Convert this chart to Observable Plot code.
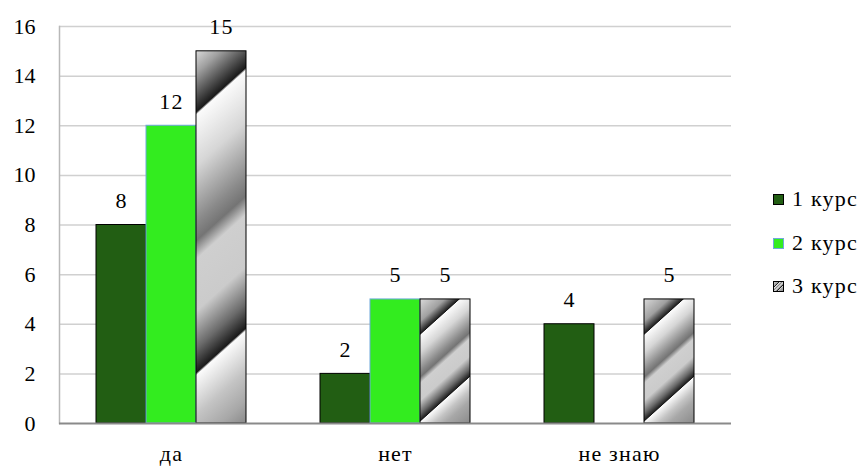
<!DOCTYPE html>
<html>
<head>
<meta charset="utf-8">
<script src="https://cdn.jsdelivr.net/npm/d3@7"></script>
<script src="https://cdn.jsdelivr.net/npm/@observablehq/plot@0.6"></script>
<style>
  html, body { margin: 0; padding: 0; background: #fff; }
  #wrap { position: relative; width: 864px; height: 467px; }
  #wrap > svg { position: absolute; left: 0; top: 0; }
  #legend { position: absolute; left: 773px; top: 0; }
  .item { position: absolute; left: 0; display: flex; align-items: center; white-space: nowrap; font-size: 22px; letter-spacing: 1.2px; color: #000; font-family: 'Liberation Serif', serif; }
  .item svg { margin-right: 8px; }
</style>
</head>
<body>
<svg width="0" height="0" style="position:absolute">
  <defs id="defs"></defs>
</svg>
<div id="wrap"><div id="legend"></div></div>
<script>
const categories = ["да", "нет", "не знаю"];
const series = ["1 курс", "2 курс", "3 курс"];
const kurs1 = [8, 2, 4];
const kurs2 = [12, 5, null];
const kurs3 = [15, 5, 5];
const yTicks = [0, 2, 4, 6, 8, 10, 12, 14, 16];
const fills = ["#225e13", "#33ec1f", null];
const strokes = ["#000000", "#6fa8dc", "#000000"];

const valuesBySeries = [kurs1, kurs2, kurs3];
const data = [];
categories.forEach((c, i) => {
  valuesBySeries.forEach((arr, j) => {
    if (arr[i] != null) data.push({category: c, series: series[j], value: arr[i]});
  });
});

const font = "Liberation Serif";
const common = {
  width: 864,
  height: 467,
  marginLeft: 59,
  marginRight: 133,
  marginTop: 26,
  marginBottom: 44,
  style: {fontFamily: font, fontSize: "22px", color: "#000", background: "transparent", overflow: "visible"},
  y: {domain: [0, 16], axis: null}
};

const back = Plot.plot({
  ...common,
  marks: [
    Plot.ruleY(yTicks.filter(d => d > 0), {stroke: "#d0d0d0", strokeWidth: 1.5}),
    Plot.frame({anchor: "left", stroke: "#b8b8b8", strokeWidth: 1.5}),
    Plot.text(yTicks, {y: d => d, text: d => String(d), frameAnchor: "left", textAnchor: "end", dx: -24, lineAnchor: "middle", fontSize: 22, fontFamily: font})
  ]
});

const stripeId = v => `stripe-${v}`;
const front = Plot.plot({
  ...common,
  style: {...common.style, letterSpacing: "1.2px"},
  color: {type: "identity"},
  fx: {domain: categories, paddingInner: 0.33, paddingOuter: 0.165, label: null},
  x: {domain: series, padding: 0, axis: null},
  marks: [
    ...series.map((s, j) => Plot.barY(data.filter(d => d.series === s), {
      fx: "category", x: "series", y: "value",
      fill: fills[j] ?? (d => `url(#${stripeId(d.value)})`), stroke: strokes[j], strokeWidth: 1
    })),
    Plot.text(data, {fx: "category", x: "series", y: "value", text: d => String(d.value), dy: -24, lineAnchor: "middle", fontSize: 22, fontFamily: font}),
    Plot.axisFx({anchor: "bottom", tickSize: 0, tickPadding: 22, label: null, fontSize: 22, fontFamily: font})
  ]
});

const base = Plot.plot({
  ...common,
  marks: [Plot.ruleY([0], {stroke: "#8a8a8a", strokeWidth: 2})]
});

// gradient stops given as [fraction down the bar at its centre line, colour]
const stripeStops = [
  [null, "#dadada"],
  [0.0, "#a0a0a0"],
  [0.105, "#1a1a1a"],
  [0.112, "#fbfbfb"],
  [0.25, "#d6d6d6"],
  [0.40, "#8a8a8a"],
  [0.45, "#747474"],
  [0.50, "#cfcfcf"],
  [0.64, "#cbcbcb"],
  [0.74, "#6a6a6a"],
  [0.805, "#1a1a1a"],
  [0.812, "#fbfbfb"],
  [0.92, "#c4c4c4"],
  [1.0, "#a8a8a8"],
  [1.5, "#8a8a8a"]
];
const yS = front.scale("y");
const bw = front.scale("x").bandwidth ?? 50;
const defs = d3.select("#defs");
function addGradient(id, H, W, slope) {
  const a = slope * W / H;
  const k = (1 + a) / (a * a + 1);
  const g = defs.append("linearGradient").attr("id", id)
    .attr("gradientUnits", "objectBoundingBox")
    .attr("x1", 0).attr("y1", 0).attr("x2", a * k).attr("y2", k);
  for (const [c, col] of stripeStops) {
    let off = c == null ? 0 : (0.5 * a + c) / (1 + a);
    off = Math.max(0, Math.min(1, off));
    g.append("stop").attr("offset", off).attr("stop-color", col);
  }
}
for (const v of new Set(kurs3.filter(v => v != null))) {
  const H = Math.abs(yS.apply(0) - yS.apply(v));
  addGradient(stripeId(v), H, bw, 0.9);
}
addGradient("stripe-legend", 10, 10, 1);

const wrap = document.getElementById("wrap");
wrap.insertBefore(base, wrap.firstChild);
wrap.insertBefore(front, base);
wrap.insertBefore(back, front);

const legend = document.getElementById("legend");
const rowY = [199, 243, 286];
const legendFills = ["#225e13", "#33ec1f", "url(#stripe-legend)"];
series.forEach((s, j) => {
  const item = document.createElement("div");
  item.className = "item";
  item.style.top = (rowY[j] - 13) + "px";
  item.style.height = "26px";
  item.innerHTML = `<svg width="11" height="11"><rect x="0.5" y="0.5" width="10" height="10" fill="${legendFills[j]}" stroke="${strokes[j]}" stroke-width="1"/></svg><span>${s}</span>`;
  legend.appendChild(item);
});
</script>
</body>
</html>
